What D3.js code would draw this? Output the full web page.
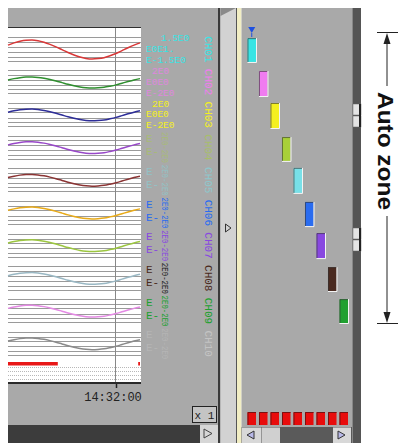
<!DOCTYPE html>
<html><head><meta charset="utf-8">
<script src="https://cdn.jsdelivr.net/npm/d3@7"></script>
<style>html,body{margin:0;padding:0;background:#fff;overflow:hidden}</style>
</head><body><svg id="c" width="398" height="443"></svg>
<script>
// ---------------- data ----------------
const channels = ["CH01","CH02","CH03","CH04","CH05","CH06","CH07","CH08","CH09","CH10"];
const labelColors = ["#38e4e4","#f07cf0","#f4f020","#a8d038","#78e0e8","#2a6cf0","#8848e0","#4a2a20","#20a030","#c4c4c4"];
const traceColors = ["#d83838","#2f8f2f","#2e2e98","#9848c8","#8a3434","#e8aa18","#9cc640","#9ab8c4","#e48ae4","#8a8a8a"];
const sampleTimes = ["14:31:42","14:31:43","14:31:44","14:31:45","14:31:46","14:31:47","14:31:48","14:31:49",
  "14:31:50","14:31:51","14:31:52","14:31:53","14:31:54","14:31:55","14:31:56","14:31:57","14:31:58",
  "14:31:59","14:32:00","14:32:01","14:32:02","14:32:03","14:32:04"];
const signal = [73,85,94,99,100,96,88,77,64,49,34,21,10,3,0,2,7,17,29,44,59,73,85]; // % of span
// trace display zones (% of chart height, 0 = top)
const traceZoneTop = [2.1,13.4,23.2,33.2,43.2,53.2,63.2,73.2,83.2,93.2];
const traceZoneBot = [7.9,16.8,26.8,36.8,46.8,56.8,66.8,76.8,86.8,96.8];
// zone bars (% of auto zone, 0 = top)
const barChannels = channels.slice(0,9);
const zoneFrom = [2.1,13.4,24.4,36.1,46.7,58.4,69.1,80.8,91.8];
const zoneTo   = [10.3,22.0,33.0,44.3,55.3,66.7,77.7,89.0,100];
const gridOffsets = [0.13,0.28,0.42,0.58,0.72,0.84]; // within each channel band
const axisTicks = ["14:32:00"];
const alarmSpans = [["14:31:42","14:31:50.3"],["14:32:03.7","14:32:04"]];
const topLabels = [["1.5E0","E0E1.","E-1.5E0"],["2E0","E0E0","E-2E0"],["2E0","E0E0","E-2E0"]];
const sideLabels = ["E","E-"];
const vertLabel = "2E0-2E0";
const magnification = "x 1";
const annotation = "Auto zone";

// ---------------- drawing ----------------
const svg = d3.select("#c");
const parse = d3.timeParse("%H:%M:%S");
const parseF = s => { const [h,m,sec] = s.split(":"); return new Date(1900,0,1,+h,+m,0, Math.round(parseFloat(sec)*1000)); };
const times = sampleTimes.map(parseF);

const chartL = 8, chartR = 141, chartT = 28, chartB = 383;
const x = d3.scaleTime().domain([times[0], times[times.length-1]]).range([chartL, 140]);
const yChart = d3.scaleLinear().domain([0,100]).range([33.15, 360.15]);

const gray = "#a9a9a9";
svg.append("rect").attr("x",8).attr("y",8).attr("width",210).attr("height",417).attr("fill",gray);
svg.append("rect").attr("x",chartL).attr("y",chartT).attr("width",chartR-chartL).attr("height",chartB-chartT).attr("fill","#fff");
svg.append("line").attr("x1",chartL).attr("x2",chartR).attr("y1",27.5).attr("y2",27.5).attr("stroke","#303030");

// grid lines
const gl = svg.append("g").attr("stroke","#9a9a9a").attr("stroke-width",1);
channels.forEach((c,i)=>{
  gridOffsets.forEach(o=>{
    const yy = Math.round(yChart(i*10 + o*10))+0.5;
    gl.append("line").attr("x1",chartL).attr("x2",chartR).attr("y1",yy).attr("y2",yy);
  });
});
svg.append("line").attr("x1",x(parse("14:32:00"))-0.5).attr("x2",x(parse("14:32:00"))-0.5)
  .attr("y1",chartT).attr("y2",chartB).attr("stroke","#888");

// traces
channels.forEach((c,i)=>{
  const ys = d3.scaleLinear().domain([0,100]).range([yChart(traceZoneBot[i]), yChart(traceZoneTop[i])]);
  const line = d3.line().x((d,k)=>x(times[k])).y(d=>ys(d)).curve(d3.curveMonotoneX);
  svg.append("path").attr("d",line(signal)).attr("fill","none")
    .attr("stroke",traceColors[i]).attr("stroke-width",1.5);
});

// alarm bar + dotted rows
alarmSpans.forEach(s=>{
  svg.append("rect").attr("x",x(parseF(s[0]))).attr("y",362).attr("width",x(parseF(s[1]))-x(parseF(s[0]))).attr("height",3.5).attr("fill","#e81818");
});
[367.5,371.5,375.5,379.5].forEach(yy=>{
  svg.append("line").attr("x1",chartL).attr("x2",chartR).attr("y1",yy).attr("y2",yy)
   .attr("stroke","#b8b8b8").attr("stroke-dasharray","1,1");
});

// time axis
const xa = svg.append("g").attr("transform",`translate(0,${chartB})`)
  .call(d3.axisBottom(x).tickValues(axisTicks.map(parse)).tickSize(5).tickFormat(d3.timeFormat("%H:%M:%S")));
xa.select(".domain").remove();
svg.append("rect").attr("x",chartL).attr("y",chartB-1).attr("width",chartR-chartL).attr("height",2).attr("fill","#2a2a2a");
xa.selectAll(".tick line").attr("stroke","#222").attr("stroke-width",1.5);
xa.selectAll(".tick text").attr("font-family","'Liberation Mono', monospace").attr("font-size",12)
  .attr("fill","#222").attr("dy","0.3em").attr("dx",-3.5).attr("y",14);

// x 1 box
svg.append("rect").attr("x",192.5).attr("y",406.5).attr("width",24).attr("height",16).attr("fill","#c4c4c4").attr("stroke","#222");
svg.append("text").attr("x",204.5).attr("y",419).attr("text-anchor","middle").attr("font-family","'Liberation Mono', monospace")
  .attr("font-size",11).attr("fill","#222").text(magnification);

// bottom dark bar & button
svg.append("rect").attr("x",8).attr("y",425).attr("width",192).attr("height",18).attr("fill","#3c3c3c");
svg.append("rect").attr("x",200).attr("y",425).attr("width",18).attr("height",18).attr("fill","#d6d6d6");
svg.append("path").attr("d","M204,429 L212,433.5 L204,438 Z").attr("fill","#d6d6d6").attr("stroke","#444");

// channel scale labels
const lf = "'Liberation Mono', monospace";
topLabels.forEach((arr,i)=>{
  const t = yChart(i*10);
  const xs = [i==0?161:152,146,146];
  arr.forEach((s,k)=>{
    svg.append("text").attr("x",xs[k]).attr("y",t+8+k*10.9).attr("font-family",lf).attr("font-size",9.5)
      .attr("fill",labelColors[i]).attr("opacity",i==1?0.75:1).text(s);
  });
});
channels.forEach((c,i)=>{
  if(i<3) return;
  const t = yChart(i*10);
  const op = (i==3||i==4||i==9)?0.45:1;
  sideLabels.forEach((s,k)=>{
    svg.append("text").attr("x",146).attr("y",t+11+k*13).attr("font-family",lf).attr("font-size",11)
      .attr("fill",labelColors[i]).attr("opacity",op).text(s);
  });
  svg.append("text").attr("transform",`translate(161.5,${t+0.8})rotate(90)`).attr("font-family",lf).attr("font-size",9.5)
    .attr("textLength",31).attr("lengthAdjust","spacingAndGlyphs")
    .attr("fill",i==7?"#222":labelColors[i]).attr("opacity",op).text(vertLabel);
});
channels.forEach((c,i)=>{
  svg.append("text").attr("transform",`translate(204.5,${yChart(i*10)+3})rotate(90)`)
    .attr("font-family",lf).attr("font-size",11).attr("fill",labelColors[i])
    .attr("opacity",(i==3||i==4)?0.55:1).text(c);
});

// middle panel
svg.append("rect").attr("x",218).attr("y",8).attr("width",2.5).attr("height",435).attr("fill","#3a3a3a");
svg.append("rect").attr("x",220.5).attr("y",8).attr("width",15.5).attr("height",435).attr("fill","#d2d2d2");
svg.append("path").attr("d","M220.5,16 L236,8 L220.5,8 Z").attr("fill","#8a8a8a");
svg.append("path").attr("d","M225.5,224 L231,228 L225.5,232 Z").attr("fill","none").attr("stroke","#333");
svg.append("rect").attr("x",236).attr("y",8).attr("width",1).attr("height",435).attr("fill","#555");
svg.append("rect").attr("x",237).attr("y",8).attr("width",4.5).attr("height",435).attr("fill","#f2eec4");

// right panel
svg.append("rect").attr("x",241.5).attr("y",8).attr("width",110.5).attr("height",419).attr("fill",gray);
const xb = d3.scaleBand().domain(barChannels).range([246,349.5]).paddingInner(0.26).paddingOuter(0.13);
const yb = d3.scaleLinear().domain([0,100]).range([32,323]);
barChannels.forEach((c,i)=>{
  const bx = xb(c), bw = xb.bandwidth(), by = yb(zoneFrom[i]), bh = yb(zoneTo[i])-yb(zoneFrom[i]);
  svg.append("rect").attr("x",bx).attr("y",by).attr("width",bw).attr("height",bh).attr("fill",labelColors[i]);
  svg.append("path").attr("d",`M${bx+0.5},${by+bh} L${bx+0.5},${by+0.5} L${bx+bw},${by+0.5}`).attr("fill","none").attr("stroke","#333").attr("opacity",0.6);
  svg.append("path").attr("d",`M${bx},${by+bh+0.5} L${bx+bw+0.5},${by+bh+0.5} L${bx+bw+0.5},${by}`).attr("fill","none").attr("stroke","#f4f4f4");
  svg.append("rect").attr("x",bx).attr("y",412).attr("width",bw).attr("height",13).attr("fill","#e80c0c");
  svg.append("path").attr("d",`M${bx+0.5},425 L${bx+0.5},412.5 L${bx+bw},412.5`).attr("fill","none").attr("stroke","#7a1010");
});
const mx = xb(barChannels[0]) + xb.bandwidth()/2;
svg.append("path").attr("d",`M${mx-3.5},27 L${mx+3.5},27 L${mx},33 Z`).attr("fill","#1e50e0");
svg.append("line").attr("x1",mx).attr("x2",mx).attr("y1",33).attr("y2",37).attr("stroke","#1e50e0");

// bottom scrollbar
svg.append("rect").attr("x",241.5).attr("y",427).attr("width",110.5).attr("height",16).attr("fill","#5a5a5a");
svg.append("rect").attr("x",242).attr("y",427.5).attr("width",19).attr("height",15.5).attr("fill","#d8d8d8");
svg.append("path").attr("d","M254,431 L247,435 L254,439 Z").attr("fill","#b8b8e8").attr("stroke","#333");
svg.append("rect").attr("x",261.5).attr("y",427.5).attr("width",18.5).attr("height",15.5).attr("fill","#d0d0d0");
svg.append("rect").attr("x",333).attr("y",427.5).attr("width",18).attr("height",15.5).attr("fill","#d8d8d8");
svg.append("path").attr("d","M338,431 L345,435 L338,439 Z").attr("fill","#b8b8e8").attr("stroke","#333");

// vertical dark scrollbar
svg.append("rect").attr("x",352).attr("y",8).attr("width",9).attr("height",435).attr("fill","#555");
svg.append("rect").attr("x",352).attr("y",8).attr("width",1).attr("height",435).attr("fill","#888");
[[104,127],[228,251]].forEach(([a,b])=>{
  const m=(a+b)/2;
  svg.append("rect").attr("x",353).attr("y",a).attr("width",8).attr("height",m-a-0.5).attr("fill","#e4e4e4").attr("stroke","#666").attr("stroke-width",0.5);
  svg.append("rect").attr("x",353).attr("y",m+0.5).attr("width",8).attr("height",b-m-0.5).attr("fill","#e4e4e4").attr("stroke","#666").attr("stroke-width",0.5);
  svg.append("rect").attr("x",359).attr("y",a).attr("width",2).attr("height",b-a).attr("fill","#222");
});

// annotation
const ax = 387;
svg.append("line").attr("x1",377).attr("x2",398).attr("y1",32.5).attr("y2",32.5).attr("stroke","#222");
svg.append("line").attr("x1",377).attr("x2",398).attr("y1",323.5).attr("y2",323.5).attr("stroke","#222");
svg.append("line").attr("x1",ax).attr("x2",ax).attr("y1",38).attr("y2",86).attr("stroke","#222");
svg.append("line").attr("x1",ax).attr("x2",ax).attr("y1",216).attr("y2",318).attr("stroke","#222");
svg.append("path").attr("d",`M${ax-3.5},44 L${ax},33 L${ax+3.5},44 Z`).attr("fill","#222");
svg.append("path").attr("d",`M${ax-3.5},312 L${ax},323 L${ax+3.5},312 Z`).attr("fill","#222");
svg.append("text").attr("transform",`translate(377.5,151)rotate(90)`).attr("text-anchor","middle")
  .attr("font-family","'Liberation Sans', Arial, sans-serif").attr("font-weight","bold").attr("font-size",22)
  .attr("textLength",118).attr("lengthAdjust","spacingAndGlyphs")
  .attr("fill","#111").text(annotation);
</script>
</body></html>
